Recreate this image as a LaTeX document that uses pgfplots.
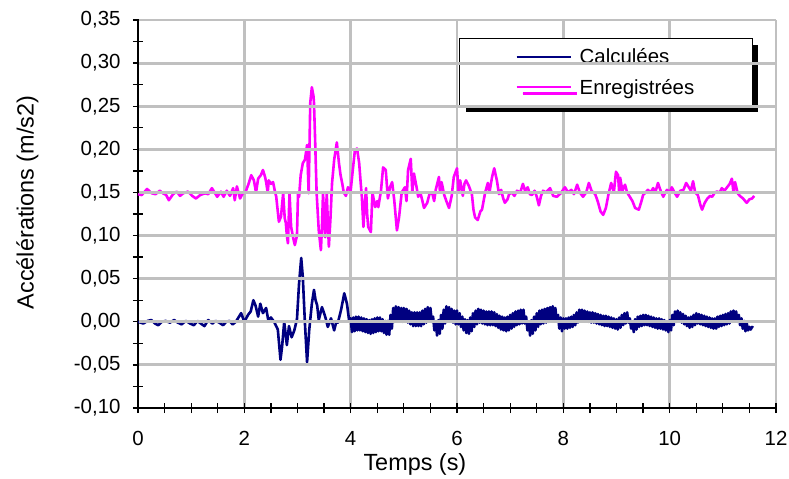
\documentclass[border=0pt]{standalone}
\usepackage{fontspec}
\setmainfont{Liberation Sans}
\usepackage{pgfplots}
\pgfplotsset{compat=1.18}
\usetikzlibrary{shadows}

\definecolor{navyline}{RGB}{0,0,128}
\definecolor{pinkline}{RGB}{255,0,255}
\definecolor{gridgray}{RGB}{192,192,192}

\begin{document}
\begin{tikzpicture}
% vertical grid lines of the plot area (638 x 388 bp, 6 columns)
\foreach \i in {1,...,6} {
  \fill[gridgray] ({(\i*638/6-1.4)*1bp},0bp) rectangle ({(\i*638/6+1.4)*1bp},388bp);
}
\begin{axis}[
  at={(0,0)}, anchor=south west,
  scale only axis,
  width=638bp, height=388bp,
  xmin=0, xmax=12, ymin=-0.10, ymax=0.35,
  xtick={0,2,...,12},
  ytick={-0.10,-0.05,0,0.05,0.10,0.15,0.20,0.25,0.30,0.35},
  minor x tick num=3,
  minor y tick num=1,
  axis x line*=bottom, axis y line*=left,
  axis line style={-, black, line width=1.8bp},
  tick align=center,
  major tick length=10bp, minor tick length=10bp,
  tick style={black, line width=1.3bp},
  font=\fontsize{20.5}{24}\selectfont,
  /pgf/number format/assume math mode=true,
  yticklabel style={xshift=-9bp, /pgf/number format/.cd, fixed, fixed zerofill, precision=2, use comma},
  xticklabel style={yshift=-15bp, /pgf/number format/.cd, fixed, precision=0},
  xlabel={Temps (s)},
  ylabel={Accélérations (m/s2)},
  label style={font=\fontsize{23.5}{27}\selectfont},
  xlabel style={at={(axis description cs:0.434,0)}, anchor=north, yshift=-42bp},
  ylabel style={at={(axis description cs:0,0.53)}, anchor=south, yshift=96bp},
  legend style={at={(0.503,0.954)}, anchor=north west, draw=black, line width=1.5bp,
    fill=white, inner xsep=56bp, inner ysep=8bp, row sep=10bp,
    font=\fontsize{20.5}{24}\selectfont,
    /tikz/every odd column/.append style={column sep=6bp},
    drop shadow={shadow xshift=6bp, shadow yshift=-6bp, fill=black, opacity=1}},
  legend cell align=left,
  legend image code/.code={\draw[#1, line width=2bp] (0bp,0bp) -- (54bp,0bp);},
  clip=false,
]
\addplot[navyline, line width=2.6bp, line join=round] coordinates {
(0.00,0.000) (0.10,-0.002) (0.18,0.001) (0.25,0.002) (0.32,-0.002) (0.38,-0.004)
(0.45,0.000) (0.52,0.001) (0.60,-0.001) (0.68,0.002) (0.75,-0.001) (0.82,-0.003)
(0.90,0.001) (0.98,-0.002) (1.05,-0.004) (1.12,0.001) (1.18,-0.002) (1.25,-0.005)
(1.32,0.002) (1.40,-0.002) (1.46,0.001) (1.53,-0.001) (1.60,-0.004) (1.66,0.000)
(1.72,0.001) (1.78,-0.003) (1.84,0.000) (1.90,0.006) (1.94,0.010) (2.00,0.000)
(2.07,0.008) (2.12,0.012) (2.17,0.025) (2.21,0.019) (2.26,0.006) (2.30,0.021)
(2.35,0.010) (2.41,0.016) (2.45,0.002) (2.50,0.005) (2.56,0.000) (2.63,-0.009)
(2.66,-0.030) (2.68,-0.044) (2.71,-0.029) (2.75,0.000) (2.80,-0.027) (2.84,-0.005)
(2.89,-0.018) (2.94,-0.010) (2.99,0.003) (3.03,0.045) (3.07,0.074) (3.10,0.052)
(3.14,-0.002) (3.18,-0.047) (3.22,-0.010) (3.27,0.021) (3.31,0.037) (3.34,0.025)
(3.37,0.019) (3.40,0.002) (3.46,0.017) (3.50,0.010) (3.53,0.004) (3.57,-0.006)
(3.63,0.004) (3.69,-0.010) (3.73,0.000) (3.76,-0.001) (3.82,0.014) (3.88,0.033)
(3.93,0.021) (3.97,0.002)
(4.000,0.004) (4.025,-0.012) (4.050,0.005) (4.075,-0.011) (4.100,0.006) (4.125,-0.010)
(4.150,0.006) (4.175,-0.010) (4.200,0.005) (4.225,-0.011) (4.250,0.004) (4.275,-0.012)
(4.300,0.003) (4.325,-0.013) (4.350,0.002) (4.375,-0.014) (4.400,0.003) (4.425,-0.013)
(4.450,0.004) (4.475,-0.012) (4.500,0.005) (4.525,-0.011) (4.550,0.005) (4.575,-0.011)
(4.600,0.003) (4.625,-0.013) (4.650,0.001) (4.675,-0.015) (4.700,0.001) (4.725,-0.015)
(4.750,0.008) (4.775,-0.008) (4.800,0.016) (4.825,0.000) (4.850,0.018) (4.875,0.002)
(4.900,0.017) (4.925,0.001) (4.950,0.016) (4.975,0.000) (5.000,0.016) (5.025,0.000)
(5.050,0.015) (5.075,-0.001) (5.100,0.013) (5.125,-0.003) (5.150,0.011) (5.175,-0.005)
(5.200,0.011) (5.225,-0.005) (5.250,0.011) (5.275,-0.005) (5.300,0.011) (5.325,-0.005)
(5.350,0.013) (5.375,-0.003) (5.400,0.015) (5.425,-0.001) (5.450,0.017) (5.475,0.001)
(5.500,0.016) (5.525,0.000) (5.550,0.006) (5.575,-0.010) (5.600,0.000) (5.625,-0.016)
(5.650,0.002) (5.675,-0.014) (5.700,0.008) (5.725,-0.008) (5.750,0.014) (5.775,-0.002)
(5.800,0.018) (5.825,0.002) (5.850,0.017) (5.875,0.001) (5.900,0.015) (5.925,-0.001)
(5.950,0.013) (5.975,-0.003) (6.000,0.013) (6.025,-0.003) (6.050,0.010) (6.075,-0.006)
(6.100,0.006) (6.125,-0.010) (6.150,0.003) (6.175,-0.013) (6.200,0.002) (6.225,-0.014)
(6.250,0.005) (6.275,-0.011) (6.300,0.010) (6.325,-0.006) (6.350,0.013) (6.375,-0.003)
(6.400,0.015) (6.425,-0.001) (6.450,0.014) (6.475,-0.002) (6.500,0.013) (6.525,-0.003)
(6.550,0.012) (6.575,-0.004) (6.600,0.012) (6.625,-0.004) (6.650,0.012) (6.675,-0.004)
(6.700,0.011) (6.725,-0.005) (6.750,0.009) (6.775,-0.007) (6.800,0.007) (6.825,-0.009)
(6.850,0.006) (6.875,-0.010) (6.900,0.005) (6.925,-0.011) (6.950,0.006) (6.975,-0.010)
(7.000,0.008) (7.025,-0.008) (7.050,0.010) (7.075,-0.006) (7.100,0.012) (7.125,-0.004)
(7.150,0.013) (7.175,-0.003) (7.200,0.014) (7.225,-0.002) (7.250,0.014) (7.275,-0.002)
(7.300,0.006) (7.325,-0.010) (7.350,0.000) (7.375,-0.016) (7.400,0.002) (7.425,-0.014)
(7.450,0.006) (7.475,-0.010) (7.500,0.010) (7.525,-0.006) (7.550,0.013) (7.575,-0.003)
(7.600,0.014) (7.625,-0.002) (7.650,0.015) (7.675,-0.001) (7.700,0.016) (7.725,0.000)
(7.750,0.017) (7.775,0.001) (7.800,0.018) (7.825,0.002) (7.850,0.016) (7.875,0.000)
(7.900,0.008) (7.925,-0.008) (7.950,0.005) (7.975,-0.011)
(8.000,0.004) (8.025,-0.008) (8.050,0.004) (8.075,-0.008) (8.100,0.005) (8.125,-0.007)
(8.150,0.006) (8.175,-0.006) (8.200,0.008) (8.225,-0.004) (8.250,0.011) (8.275,-0.001)
(8.300,0.014) (8.325,0.002) (8.350,0.014) (8.375,0.002) (8.400,0.013) (8.425,0.001)
(8.450,0.012) (8.475,0.000) (8.500,0.011) (8.525,-0.001) (8.550,0.011) (8.575,-0.001)
(8.600,0.010) (8.625,-0.002) (8.650,0.009) (8.675,-0.003) (8.700,0.008) (8.725,-0.004)
(8.750,0.007) (8.775,-0.005) (8.800,0.007) (8.825,-0.005) (8.850,0.006) (8.875,-0.006)
(8.900,0.005) (8.925,-0.007) (8.950,0.004) (8.975,-0.008) (9.000,0.003) (9.025,-0.009)
(9.050,0.005) (9.075,-0.007) (9.100,0.008) (9.125,-0.004) (9.150,0.010) (9.175,-0.002)
(9.200,0.011) (9.225,-0.001) (9.250,0.004) (9.275,-0.008) (9.300,0.000) (9.325,-0.012)
(9.350,0.003) (9.375,-0.009) (9.400,0.006) (9.425,-0.006) (9.450,0.007) (9.475,-0.005)
(9.500,0.008) (9.525,-0.004) (9.550,0.008) (9.575,-0.004) (9.600,0.007) (9.625,-0.005)
(9.650,0.006) (9.675,-0.006) (9.700,0.005) (9.725,-0.007) (9.750,0.004) (9.775,-0.008)
(9.800,0.004) (9.825,-0.008) (9.850,0.003) (9.875,-0.009) (9.900,0.002) (9.925,-0.010)
(9.950,0.000) (9.975,-0.012) (10.000,0.002) (10.025,-0.010) (10.050,0.008) (10.075,-0.004)
(10.100,0.012) (10.125,0.000) (10.150,0.013) (10.175,0.001) (10.200,0.011) (10.225,-0.001)
(10.250,0.009) (10.275,-0.003) (10.300,0.007) (10.325,-0.005) (10.350,0.005) (10.375,-0.007)
(10.400,0.006) (10.425,-0.006) (10.450,0.008) (10.475,-0.004) (10.500,0.010) (10.525,-0.002)
(10.550,0.009) (10.575,-0.003) (10.600,0.008) (10.625,-0.004) (10.650,0.007) (10.675,-0.005)
(10.700,0.006) (10.725,-0.006) (10.750,0.005) (10.775,-0.007) (10.800,0.004) (10.825,-0.008)
(10.850,0.004) (10.875,-0.008) (10.900,0.006) (10.925,-0.006) (10.950,0.007) (10.975,-0.005)
(11.000,0.008) (11.025,-0.004) (11.050,0.009) (11.075,-0.003) (11.100,0.010) (11.125,-0.002)
(11.150,0.012) (11.175,0.000) (11.200,0.013) (11.225,0.001) (11.250,0.012) (11.275,0.000)
(11.300,0.008) (11.325,-0.004) (11.350,0.004) (11.375,-0.008) (11.400,0.001) (11.425,-0.011)
(11.450,-0.002) (11.475,-0.010) (11.500,-0.006) (11.525,-0.009) (11.550,-0.006) (11.570,-0.007)
};
\addlegendentry{Calculées}
\addplot[pinkline, line width=2.6bp, line join=round] coordinates {
(0.00,0.148) (0.07,0.147) (0.17,0.154) (0.26,0.149) (0.33,0.148) (0.41,0.152)
(0.47,0.149) (0.53,0.147) (0.58,0.141) (0.66,0.148) (0.73,0.151) (0.79,0.146)
(0.85,0.149) (0.94,0.151) (1.02,0.146) (1.09,0.143) (1.17,0.147) (1.26,0.149)
(1.32,0.148) (1.39,0.155) (1.45,0.149) (1.49,0.145) (1.56,0.151) (1.61,0.145)
(1.67,0.152) (1.73,0.146) (1.79,0.155) (1.82,0.141) (1.86,0.157) (1.92,0.143)
(1.97,0.149) (2.02,0.150) (2.08,0.160) (2.13,0.170) (2.18,0.164) (2.22,0.150)
(2.26,0.166) (2.31,0.170) (2.35,0.176) (2.39,0.168) (2.41,0.162) (2.44,0.150)
(2.46,0.164) (2.50,0.160) (2.54,0.162) (2.58,0.150) (2.60,0.145) (2.65,0.116)
(2.69,0.122) (2.73,0.149) (2.76,0.120) (2.78,0.115) (2.80,0.100) (2.82,0.091)
(2.85,0.149) (2.88,0.110) (2.92,0.097) (2.95,0.089) (2.99,0.100) (3.01,0.149)
(3.03,0.145) (3.06,0.170) (3.10,0.184) (3.14,0.188) (3.18,0.205) (3.21,0.149)
(3.24,0.254) (3.27,0.272) (3.30,0.262) (3.31,0.254) (3.33,0.214) (3.36,0.149)
(3.40,0.106) (3.44,0.083) (3.46,0.110) (3.48,0.149) (3.52,0.098) (3.55,0.149)
(3.59,0.087) (3.62,0.120) (3.65,0.161) (3.69,0.188) (3.74,0.208) (3.78,0.184)
(3.81,0.170) (3.84,0.161) (3.87,0.150) (3.91,0.146) (3.95,0.156) (4.00,0.152)
(4.04,0.176) (4.08,0.199) (4.12,0.201) (4.16,0.184) (4.19,0.160) (4.21,0.145)
(4.24,0.110) (4.27,0.140) (4.29,0.155) (4.31,0.125) (4.33,0.110) (4.38,0.104)
(4.41,0.150) (4.46,0.133) (4.50,0.140) (4.52,0.133) (4.57,0.152) (4.61,0.179)
(4.66,0.176) (4.70,0.143) (4.74,0.156) (4.78,0.162) (4.82,0.141) (4.85,0.120)
(4.87,0.106) (4.91,0.121) (4.96,0.150) (5.02,0.156) (5.05,0.140) (5.08,0.176)
(5.13,0.189) (5.16,0.150) (5.19,0.172) (5.24,0.156) (5.27,0.145) (5.31,0.150)
(5.35,0.140) (5.38,0.132) (5.44,0.138) (5.49,0.150) (5.54,0.148) (5.57,0.140)
(5.60,0.153) (5.66,0.168) (5.68,0.150) (5.71,0.162) (5.76,0.147) (5.80,0.140)
(5.85,0.132) (5.90,0.146) (5.94,0.168) (6.00,0.178) (6.03,0.150) (6.06,0.164)
(6.11,0.146) (6.14,0.160) (6.17,0.164) (6.22,0.158) (6.28,0.148) (6.31,0.130)
(6.34,0.121) (6.39,0.118) (6.44,0.128) (6.47,0.130) (6.53,0.150) (6.58,0.161)
(6.61,0.150) (6.66,0.168) (6.70,0.178) (6.75,0.164) (6.79,0.148) (6.83,0.153)
(6.87,0.143) (6.90,0.138) (6.95,0.142) (6.98,0.148) (7.03,0.150) (7.08,0.146)
(7.13,0.152) (7.19,0.150) (7.24,0.160) (7.28,0.152) (7.33,0.156) (7.37,0.148)
(7.41,0.147) (7.46,0.152) (7.50,0.145) (7.54,0.135) (7.58,0.146) (7.62,0.152)
(7.67,0.150) (7.75,0.155) (7.81,0.146) (7.88,0.145) (7.95,0.149) (8.03,0.156)
(8.09,0.150) (8.15,0.153) (8.20,0.148) (8.26,0.159) (8.31,0.150) (8.37,0.145)
(8.43,0.150) (8.48,0.161) (8.53,0.152) (8.60,0.148) (8.65,0.139) (8.70,0.128)
(8.75,0.124) (8.80,0.132) (8.85,0.148) (8.90,0.161) (8.95,0.150) (8.99,0.174)
(9.03,0.170) (9.05,0.150) (9.07,0.167) (9.11,0.152) (9.16,0.159) (9.20,0.150)
(9.25,0.145) (9.30,0.140) (9.35,0.132) (9.42,0.130) (9.47,0.140) (9.50,0.147)
(9.55,0.150) (9.59,0.153) (9.64,0.150) (9.69,0.155) (9.73,0.150) (9.78,0.161)
(9.83,0.152) (9.88,0.145) (9.92,0.150) (9.95,0.153) (10.00,0.150) (10.04,0.156)
(10.09,0.150) (10.14,0.145) (10.20,0.152) (10.26,0.153) (10.31,0.161) (10.36,0.156)
(10.40,0.152) (10.44,0.163) (10.48,0.150) (10.53,0.147) (10.58,0.135) (10.61,0.130)
(10.66,0.138) (10.71,0.143) (10.76,0.146) (10.80,0.145) (10.85,0.150) (10.89,0.151)
(10.94,0.150) (10.98,0.155) (11.03,0.152) (11.08,0.156) (11.13,0.160) (11.17,0.166)
(11.20,0.150) (11.23,0.162) (11.28,0.149) (11.32,0.146) (11.38,0.143) (11.42,0.140)
(11.45,0.138) (11.50,0.142) (11.55,0.143) (11.59,0.146)
};
\addlegendentry{Enregistrées}
\end{axis}
% horizontal grid lines, 9 rows
\foreach \j in {1,...,9} {
  \fill[gridgray] (0.9bp,{(\j*388/9-1.4)*1bp}) rectangle (638bp,{(\j*388/9+1.4)*1bp});
}
\pgfresetboundingbox
\path (-138bp,-71bp) rectangle (651bp,408bp);
\end{tikzpicture}
\end{document}
